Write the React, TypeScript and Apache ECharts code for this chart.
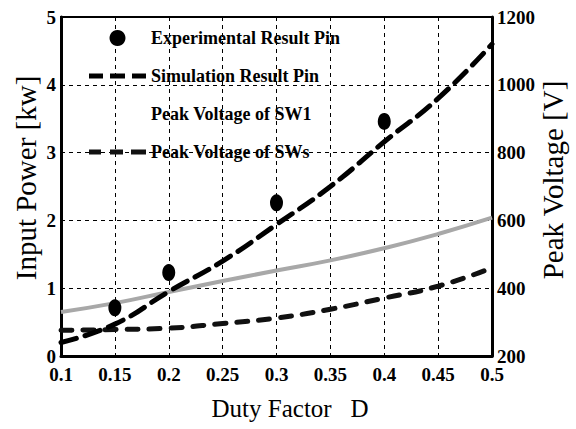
import React, { useEffect, useRef } from "react";
import * as echarts from "echarts";

// Duty factor D values
const dutySim = [0.1, 0.15, 0.2, 0.25, 0.3, 0.35, 0.4, 0.45, 0.5];
// Experimental Result Pin (kW)
const expDuty = [0.15, 0.2, 0.3, 0.4];
const expPin = [0.71, 1.23, 2.26, 3.46];
// Simulation Result Pin (kW)
const simPin = [0.2, 0.47, 0.95, 1.4, 1.94, 2.5, 3.16, 3.8, 4.6];
// Peak Voltage of SW1 (V)
const vSW1 = [330, 356, 389, 421, 452, 482, 518, 560, 608];
// Peak Voltage of SWs (V)
const vSWs = [276, 278, 282, 296, 312, 338, 371, 406, 460];

const legendNames = [
  "Experimental Result Pin",
  "Simulation Result Pin",
  "Peak Voltage of SW1",
  "Peak Voltage of SWs",
];

const SERIF = '"Liberation Serif", "Times New Roman", serif';

export default function App() {
  const ref = useRef<HTMLDivElement>(null);
  useEffect(() => {
    if (!ref.current) return;
    const chart = echarts.init(ref.current, undefined, { renderer: "svg" });
    const tickLabel = {
      fontFamily: SERIF,
      fontWeight: "bold" as const,
      fontSize: 19,
      color: "#000",
    };
    chart.setOption({
      animation: false,
      backgroundColor: "#fff",
      grid: {
        left: 61,
        right: 84,
        top: 17,
        bottom: 73,
        show: true,
        borderColor: "#000",
        borderWidth: 2,
      },
      legend: {
        orient: "vertical",
        left: 89,
        top: 29,
        padding: 0,
        itemWidth: 57,
        itemHeight: 16,
        itemGap: 20,
        selectedMode: false,
        symbolKeepAspect: true,
        textStyle: {
          fontFamily: SERIF,
          fontWeight: "bold",
          fontSize: 18,
          color: "#000",
          lineHeight: 16,
        },
        data: [
          { name: legendNames[0], icon: "circle" },
          {
            name: legendNames[1],
            icon: "path://M0,0h14v5h-14z M21,0h15v5h-15z M43,0h14v5h-14z",
          },
          {
            name: legendNames[2],
            icon: "rect",
            itemStyle: { opacity: 0 },
          },
          {
            name: legendNames[3],
            icon: "path://M0,0h12v5h-12z M21,0h13v5h-13z M42,0h15v5h-15z",
          },
        ],
      },
      xAxis: {
        type: "value",
        min: 0.1,
        max: 0.5,
        interval: 0.05,
        axisLine: { show: true, onZero: false, lineStyle: { color: "#000", width: 3 } },
        axisTick: { show: false },
        axisLabel: {
          ...tickLabel,
          margin: 9,
          formatter: (v: number) => String(+v.toFixed(2)),
        },
        splitLine: {
          show: true,
          lineStyle: { color: "#000", width: 1, type: [4, 4] },
        },
      },
      yAxis: [
        {
          type: "value",
          min: 0,
          max: 5,
          interval: 1,
          axisLine: { show: true, onZero: false, lineStyle: { color: "#000", width: 3 } },
          axisTick: { show: false },
          axisLabel: { ...tickLabel, margin: 5 },
          splitLine: {
            show: true,
            lineStyle: { color: "#000", width: 1, type: [4, 4] },
          },
        },
        {
          type: "value",
          position: "right",
          min: 200,
          max: 1200,
          interval: 200,
          axisLine: { show: true, onZero: false, lineStyle: { color: "#000", width: 3 } },
          axisTick: { show: false },
          axisLabel: {
            ...tickLabel,
            margin: 5,
            formatter: (v: number) => String(v),
          },
          splitLine: { show: false },
        },
      ],
      series: [
        {
          name: legendNames[2],
          type: "line",
          yAxisIndex: 1,
          smooth: true,
          symbol: "none",
          data: dutySim.map((d, i) => [d, vSW1[i]]),
          lineStyle: { color: "#a8a8a8", width: 4 },
          itemStyle: { color: "#a8a8a8" },
          z: 2,
        },
        {
          name: legendNames[3],
          type: "line",
          yAxisIndex: 1,
          smooth: true,
          symbol: "none",
          data: dutySim.map((d, i) => [d, vSWs[i]]),
          lineStyle: { color: "#111", width: 5, type: [11, 11], cap: "round" },
          itemStyle: { color: "#111" },
          z: 3,
        },
        {
          name: legendNames[1],
          type: "line",
          yAxisIndex: 0,
          smooth: true,
          symbol: "none",
          data: dutySim.map((d, i) => [d, simPin[i]]),
          lineStyle: { color: "#000", width: 5, type: [16, 9], cap: "round" },
          itemStyle: { color: "#000" },
          z: 4,
        },
        {
          name: legendNames[0],
          type: "scatter",
          yAxisIndex: 0,
          symbol: "circle",
          symbolSize: [13, 17],
          data: expDuty.map((d, i) => [d, expPin[i]]),
          itemStyle: { color: "#000", opacity: 1 },
          z: 5,
        },
      ],
      graphic: [
        {
          type: "text",
          x: 26,
          y: 178,
          rotation: Math.PI / 2,
          style: {
            text: "Input Power [kw]",
            font: `29px ${SERIF}`,
            fill: "#000",
            align: "center",
            verticalAlign: "middle",
          },
        },
        {
          type: "text",
          x: 553,
          y: 180,
          rotation: Math.PI / 2,
          style: {
            text: "Peak Voltage [V]",
            font: `29px ${SERIF}`,
            fill: "#000",
            align: "center",
            verticalAlign: "middle",
          },
        },
        {
          type: "text",
          x: 290,
          y: 408,
          style: {
            text: "Duty Factor   D",
            font: `25px ${SERIF}`,
            fill: "#000",
            align: "center",
            verticalAlign: "middle",
          },
        },
      ],
    });
    return () => chart.dispose();
  }, []);
  return (
    <div
      ref={ref}
      style={{ position: "fixed", left: 0, top: 0, width: 576, height: 429 }}
    />
  );
}
